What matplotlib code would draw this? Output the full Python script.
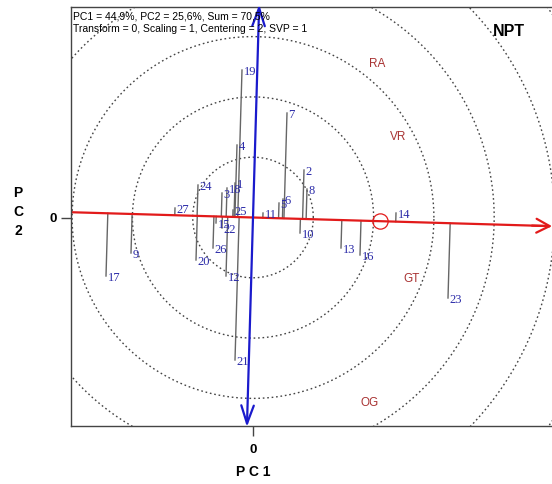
import numpy as np
import matplotlib.pyplot as plt

# GGE biplot, average environment coordination view (units: biplot scale)
gen_labels = ["1", "2", "3", "4", "5", "6", "7", "8", "9", "10", "11", "12", "13", "14",
              "15", "16", "17", "18", "19", "20", "21", "22", "23", "24", "25", "26", "27"]
gen_x = [-18, 51, -31, -16, 26, 30, 34, 54, -122, 47, 10, -27, 88, 143,
         -37, 107, -147, -26, -11, -57, -18, -31, 195, -55, -20, -40, -78]
gen_y = [34.5, 47.5, 24.5, 72.5, 14.5, 18.5, 104.5, 28.5, -35.5, -15.5, 4.5, -58.5, -30.5, 4.5,
         -5.5, -37.5, -58.5, 29.5, 147.5, -42.5, -142.5, -10.5, -80.5, 32.5, 7.5, -30.5, 9.5]

env_labels = ["RA", "VR", "GT", "OG"]
env_x = [124, 145, 159, 117]
env_y = [153.5, 80.5, -61.5, -185.5]

aea_slope = -0.029          # average environment axis direction
ideal_x = 127               # small circle on the AEA
ring_step = 60.3            # concentric circle spacing

pc1_pct, pc2_pct = "44,9", "25,6"
header = ("PC1 = %s%%, PC2 = %s%%, Sum = 70,5%%\n"
          "Transform = 0, Scaling = 1, Centering = 2, SVP = 1" % (pc1_pct, pc2_pct))

fig = plt.figure(figsize=(5.52, 4.84), dpi=100)
W, H = 552, 484
left_px, right_px, top_px, bot_px = 71, 560, 7, 426
ax = fig.add_axes([left_px / W, (H - bot_px) / H, (right_px - left_px) / W, (bot_px - top_px) / H])
ax.set_xlim(-182, 307)
ax.set_ylim(-208.5, 210.5)

# concentric circles
theta = np.linspace(0, 2 * np.pi, 400)
for k in range(1, 7):
    r = ring_step * k
    ax.plot(r * np.cos(theta), r * np.sin(theta), ls=(0, (1.2, 2.0)), color="#444444", lw=1.0)

u = np.array([1.0, aea_slope]) / np.hypot(1.0, aea_slope)
v = np.array([-u[1], u[0]])

# projection lines from genotypes to the AEA
for gx, gy in zip(gen_x, gen_y):
    t = gx * u[0] + gy * u[1]
    ax.plot([gx, t * u[0]], [gy, t * u[1]], color="#666666", lw=1.0)

# AEA (red) and its perpendicular (blue)
x0, x1 = -182, 299
ax.plot([x0, x1 - 3], [aea_slope * x0, aea_slope * (x1 - 3)], color="#e21a1a", lw=1.6)
ax.annotate("", xy=(x1, aea_slope * x1), xytext=(x1 - 20, aea_slope * (x1 - 20)),
            arrowprops=dict(arrowstyle="->,head_length=0.95,head_width=0.5", color="#e21a1a", lw=1.6,
                            shrinkA=0, shrinkB=0))
b0, b1 = -209.5, 213
ax.annotate("", xy=(v[0] * b1, v[1] * b1), xytext=(v[0] * b0, v[1] * b0),
            arrowprops=dict(arrowstyle="<->,head_length=1.3,head_width=0.45", color="#1a1acc", lw=1.6,
                            shrinkA=0, shrinkB=0), annotation_clip=False)
ax.plot(ideal_x, ideal_x * aea_slope, marker="o", ms=11, mfc="none", mec="#e21a1a", mew=0.9)

for lab, gx, gy in zip(gen_labels, gen_x, gen_y):
    ax.text(gx + 1.5, gy - 2, lab, ha="left", va="center", fontsize=9,
            family="Liberation Serif", color="#2b2ba8")

for lab, ex, ey in zip(env_labels, env_x, env_y):
    ax.text(ex, ey, lab, ha="center", va="center", fontsize=8.5,
            family="Liberation Sans", color="#a83232")

ax.text(0.004, 0.99, header, transform=ax.transAxes, ha="left", va="top", fontsize=7.5,
        family="Liberation Sans", linespacing=1.35)
fig.text(509 / W, 1 - 31 / H, "NPT", ha="center", va="center", fontsize=11.5,
         family="Liberation Sans", weight="bold")

for sp in ax.spines.values():
    sp.set_color("#444444")
    sp.set_linewidth(1.0)
ax.set_xticks([0])
ax.set_yticks([0])
ax.set_xticklabels(["0"], fontsize=9.5, family="Liberation Sans", weight="bold")
ax.set_yticklabels(["0"], fontsize=9.5, family="Liberation Sans", weight="bold")
ax.tick_params(length=7, width=1, color="#444444", pad=6)
ax.tick_params(axis="y", pad=3)

fig.text(253 / W, 1 - 472 / H, "P C 1", ha="center", va="center", fontsize=10,
         family="Liberation Sans", weight="bold")
fig.text(18 / W, 1 - 212 / H, "P\nC\n2", ha="center", va="center", fontsize=10,
         family="Liberation Sans", weight="bold", linespacing=1.45)

fig.savefig("out.png", dpi=100)
